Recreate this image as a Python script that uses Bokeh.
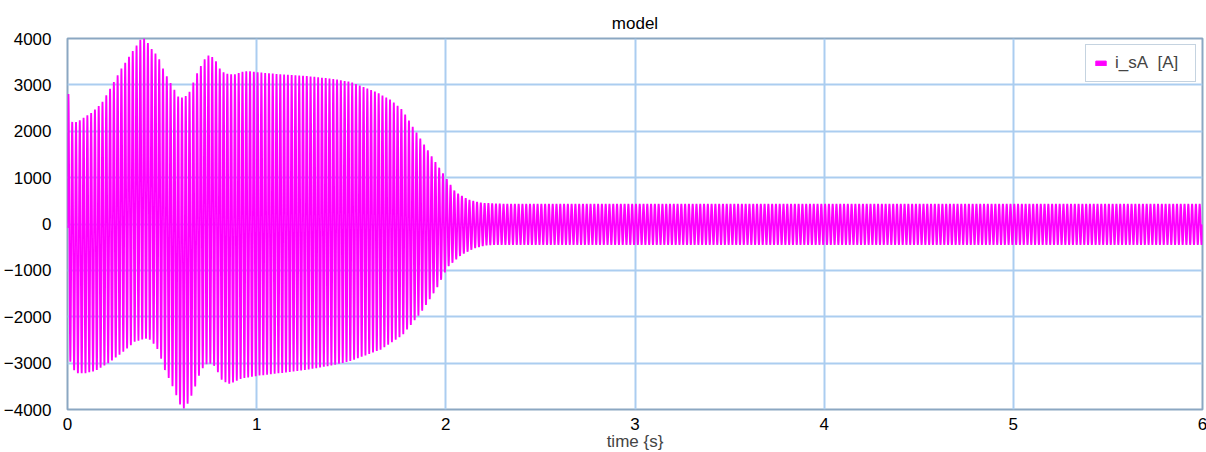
import numpy as np
from bokeh.plotting import figure
from bokeh.models import ColumnDataSource, FixedTicker, Legend, LegendItem
from bokeh.embed import file_html
from bokeh.resources import INLINE

# ---- data ----
# upper envelope (positive peaks) of i_sA [A]
upper_t = [0.0, 0.005, 0.025, 0.05, 0.07, 0.127, 0.18, 0.23, 0.285, 0.34, 0.39, 0.41,
           0.44, 0.48, 0.51, 0.55, 0.585, 0.61, 0.64, 0.665, 0.69, 0.725, 0.75, 0.78,
           0.805, 0.83, 0.88, 0.92, 0.955, 1.01, 1.06, 1.15, 1.24, 1.40, 1.50, 1.63,
           1.71, 1.77, 1.82, 1.87, 1.92, 1.98, 2.05, 2.12, 2.19, 2.30, 6.0]
upper_v = [2800, 2800, 2200, 2200, 2250, 2400, 2600, 2950, 3350, 3700, 4000, 4000,
           3800, 3600, 3300, 3000, 2750, 2720, 2800, 3050, 3300, 3550, 3650, 3550,
           3350, 3250, 3220, 3280, 3300, 3270, 3250, 3220, 3200, 3130, 3060, 2850,
           2670, 2460, 2130, 1810, 1490, 1120, 690, 520, 450, 430, 430]
# lower envelope (negative peaks)
lower_t = [0.0, 0.02, 0.04, 0.09, 0.145, 0.215, 0.285, 0.355, 0.41, 0.44, 0.48, 0.515,
           0.54, 0.566, 0.60, 0.62, 0.645, 0.672, 0.70, 0.725, 0.75, 0.78, 0.815, 0.85,
           0.885, 0.92, 1.01, 1.095, 1.27, 1.41, 1.50, 1.66, 1.77, 1.87, 1.95, 2.01,
           2.08, 2.15, 2.22, 2.30, 6.0]
lower_v = [-2970, -2970, -3215, -3220, -3170, -3000, -2790, -2540, -2470, -2500, -2720, -3150,
           -3360, -3600, -3940, -3990, -3800, -3540, -3215, -3040, -3000, -3070, -3360, -3450,
           -3400, -3330, -3270, -3230, -3140, -3040, -2950, -2700, -2400, -1900, -1400, -925,
           -670, -520, -450, -445, -445]
supply_hz = 50.0
x_ticks = [0, 1, 2, 3, 4, 5, 6]
y_ticks = [-4000, -3000, -2000, -1000, 0, 1000, 2000, 3000, 4000]
series_name = "i_sA\u00a0 [A]"
x_title = "time {s}"
plot_title = "model"

# ---- build waveform from envelopes ----
fs = 40 * supply_hz
t = np.arange(0, 6.0 + 1e-9, 1.0 / fs)
up = np.interp(t, upper_t, upper_v)
lo = np.interp(t, lower_t, lower_v)
mid = (up + lo) / 2.0
amp = (up - lo) / 2.0
i_sA = mid + amp * np.sin(2 * np.pi * supply_hz * t)
src = ColumnDataSource(dict(t=t, i=i_sA))

FONT = "Liberation Sans"
FS = "17px"
GRID = "#abcdf0"
FRAME = "#8ba7c2"
MAG = "#ff00ff"

p = figure(frame_width=1135, frame_height=371, output_backend="svg", toolbar_location=None,
           x_range=(0, 6), y_range=(-4000, 4000),
           min_border_left=66, min_border_right=5, min_border_top=38, min_border_bottom=43)
p.title.text = plot_title
p.title.align = "center"
p.title.text_font = FONT
p.title.text_font_size = FS
p.title.text_font_style = "normal"
p.title.text_color = "#000000"
p.title.standoff = 11

p.line("t", "i", source=src, line_color=MAG, line_width=1.8)

nan = float("nan")
dummy = p.quad(left=[nan], right=[nan], top=[nan], bottom=[nan],
               fill_color=MAG, line_color=MAG)
legend = Legend(items=[LegendItem(label=series_name, renderers=[dummy])],
                location="top_right", margin=6, padding=8,
                glyph_width=13, glyph_height=6, label_standoff=8, spacing=0,
                label_width=72, label_height=17,
                label_text_font=FONT, label_text_font_size=FS,
                border_line_color=FRAME, border_line_width=1,
                background_fill_color="white", background_fill_alpha=1.0)
p.add_layout(legend)

p.xaxis.ticker = FixedTicker(ticks=x_ticks)
p.yaxis.ticker = FixedTicker(ticks=y_ticks)
p.xaxis.axis_label = x_title
for ax in (p.xaxis, p.yaxis):
    ax.axis_line_color = None
    ax.major_tick_line_color = None
    ax.minor_tick_line_color = None
    ax.major_tick_in = 0
    ax.major_tick_out = 0
    ax.minor_tick_in = 0
    ax.minor_tick_out = 0
    ax.major_label_text_font = FONT
    ax.major_label_text_font_size = FS
    ax.major_label_text_color = "#000000"
p.xaxis.major_label_standoff = 8
p.yaxis.major_label_standoff = 16
p.xaxis.axis_label_text_font = FONT
p.xaxis.axis_label_text_font_size = FS
p.xaxis.axis_label_text_font_style = "normal"
p.xaxis.axis_label_standoff = -1

p.xgrid.grid_line_color = GRID
p.ygrid.grid_line_color = GRID
p.xgrid.grid_line_width = 2
p.ygrid.grid_line_width = 2
p.outline_line_color = FRAME
p.outline_line_width = 2
p.background_fill_color = "white"

open("out.html", "w").write(file_html(p, INLINE))
